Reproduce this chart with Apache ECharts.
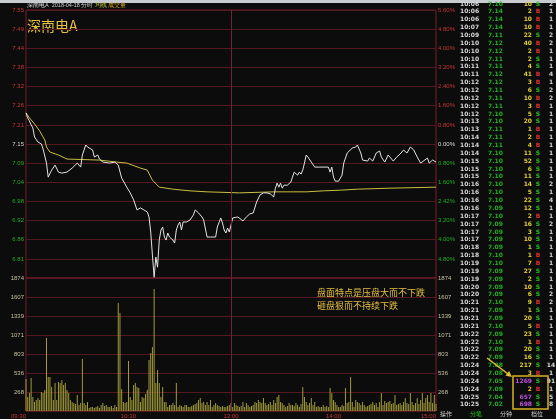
<!DOCTYPE html>
<html><head><meta charset="utf-8">
<script src="https://cdn.jsdelivr.net/npm/echarts@6/dist/echarts.min.js"></script>
<style>html,body{margin:0;padding:0;background:#0c0c0c;}#c{width:556px;height:419px;}</style>
</head><body><div id="c"></div>
<script>
const stockName = '深南电A';
const titleLine = ['深南电A  2018-04-18 分时', '均线', '成交量'];
const prevClose = 7.15;
const timeLabels = ['09:30', '10:30', '13:00', '14:00', '15:00'];
const pctLabels = ['5.60%','4.80%','4.00%','3.20%','2.40%','1.60%','0.80%','0.00%','0.80%','1.60%','2.42%','3.20%','4.00%','4.80%','5.60%'];
const volTickLabels = ['0','268','536','803','1071','1339','1607','1874'];

const priceMin = [0,1,2,3,4,5,7,9,10,12,13,15,17,19,21,24,27,30,32,33,35,36,39,40,42,43,45,49,52,54,56,59,61,63,65,67,68,71,72,73,74,75,76,77,78,79,80,81,82,83,84,86,87,88,89,90,91,92,94,96,98,99,101,103,104,106,108,111,112,114,115,116,117,118,119,120,121,124,125,127,129,131,133,135,137,139,141,143,145,146,147,148,149,150,151,153,155,156,157,159,160,161,162,163,164,165,167,169,172,175,177,178,179,180,181,183,185,186,188,189,191,193,194,196,197,200,201,203,205,207,208,210,212,213,215,217,219,221,223,225,227,229,231,232,235,236,238,240];
const priceVal = [7.243,7.228,7.219,7.207,7.198,7.171,7.156,7.150,7.135,7.093,7.051,7.072,7.087,7.066,7.063,7.066,7.078,7.093,7.081,7.117,7.147,7.141,7.132,7.111,7.117,7.105,7.096,7.093,7.096,7.087,7.048,7.021,7.004,6.983,6.953,6.959,6.959,6.947,6.932,6.887,6.818,6.752,6.812,6.782,6.863,6.893,6.902,6.872,6.863,6.884,6.872,6.863,6.854,6.893,6.908,6.917,6.893,6.917,6.917,6.923,6.938,6.953,6.944,6.932,6.923,6.872,6.872,6.872,6.902,6.929,6.914,6.893,6.884,6.899,6.887,6.908,6.929,6.932,6.929,6.920,6.932,6.941,6.944,6.977,6.998,7.004,7.004,7.001,6.992,7.018,7.033,7.021,7.033,7.018,7.027,7.027,7.036,7.051,7.066,7.057,7.066,7.060,7.072,7.093,7.117,7.111,7.096,7.081,7.081,7.081,7.081,7.066,7.081,7.051,7.039,7.039,7.057,7.093,7.123,7.126,7.138,7.141,7.147,7.123,7.102,7.099,7.108,7.099,7.123,7.129,7.111,7.096,7.117,7.111,7.099,7.111,7.120,7.132,7.123,7.141,7.132,7.111,7.093,7.096,7.108,7.093,7.102,7.096];

const avgMin = [0,2,5,8,11,12,14,19,24,43,53,59,67,71,74,78,86,96,106,125,145,164,174,184,194,213,240];
const avgVal = [7.243,7.228,7.210,7.189,7.162,7.141,7.126,7.117,7.105,7.102,7.096,7.093,7.078,7.072,7.042,7.021,7.015,7.010,7.007,7.004,7.007,7.007,7.010,7.012,7.015,7.018,7.021];

const volume = [
451,197,254,465,197,127,155,183,155,268,
254,296,1029,479,479,338,155,395,155,409,
395,437,367,395,296,254,155,127,113,99,
226,85,113,733,113,85,127,42,56,56,
42,56,70,42,85,113,70,85,56,56,
70,42,85,56,1523,1382,310,127,113,127,
705,197,155,367,395,338,324,127,197,183,
240,300,720,818,902,1720,395,578,395,197,
338,127,127,56,85,85,113,85,395,56,
85,70,56,85,85,56,56,70,85,99,
113,155,183,113,127,85,127,85,155,56,
85,113,85,70,56,70,56,56,70,85,
113,56,113,85,70,56,70,127,56,113,
85,56,70,85,127,113,155,127,113,183,
113,85,99,127,85,155,113,197,226,127,
113,85,56,70,113,85,85,70,113,85,
56,99,338,197,127,85,113,183,85,127,
56,70,56,56,85,56,70,56,324,254,
155,127,85,56,56,85,70,324,113,127,
479,127,56,155,127,113,85,127,85,56,
70,85,99,127,85,113,56,127,254,85,
141,113,127,141,99,113,226,85,99,113,
85,127,183,113,99,254,127,85,113,183,
99,155,254,113,183,226,127,254,113,226,
99];

const tradeTime = ['10:06','10:06','10:06','10:07','10:09','10:10','10:10','10:10','10:11','10:11','10:12','10:12','10:12','10:12','10:12','10:13','10:13','10:14','10:14','10:14','10:15','10:15','10:15','10:16','10:16','10:16','10:16','10:17','10:17','10:17','10:17','10:18','10:18','10:19','10:19','10:19','10:20','10:20','10:21','10:21','10:21','10:21','10:22','10:22','10:22','10:22','10:24','10:24','10:24','10:24','10:25','10:25'];
const tradePrice = ['7.10','7.14','7.14','7.14','7.11','7.12','7.12','7.11','7.11','7.12','7.12','7.11','7.11','7.11','7.10','7.10','7.11','7.11','7.11','7.10','7.10','7.10','7.10','7.10','7.10','7.10','7.09','7.10','7.09','7.09','7.09','7.09','7.10','7.10','7.09','7.09','7.09','7.09','7.10','7.09','7.09','7.10','7.09','7.10','7.09','7.09','7.08','7.08','7.05','7.09','7.04','7.02'];
const tradeVol = [10,2,10,10,22,40,2,2,4,41,3,6,10,3,5,20,1,2,4,11,52,6,11,14,5,22,12,2,16,3,10,1,1,7,27,2,10,6,9,1,20,5,23,1,20,16,217,3,1269,2,657,698];
const tradeSide = ['S','B','B','B','S','B','B','S','S','B','B','S','B','B','S','S','B','B','B','S','S','S','S','S','S','S','S','B','S','S','S','S','B','B','S','S','S','S','B','S','S','B','S','B','S','S','S','B','S','B','S','S'];
const tradeCount = [2,1,1,1,2,2,1,1,1,4,1,2,2,1,1,1,1,1,1,1,1,1,1,2,1,4,1,1,2,1,1,1,1,1,1,1,1,2,2,1,1,1,1,1,1,1,14,1,91,1,5,8];
const annotation = ['盘面特点是压盘大而不下跌', '砸盘狠而不持续下跌'];
const tabs = ['操作', '分笔', '分钟', '档位'];

const RED = '#c83838', GREEN = '#22b022', WHITE = '#d8d8d8', YEL = '#e6c040';
const GRIDC = '#541820';
const step = 0.0572;
const volStep = 267.8;

const chart = echarts.init(document.getElementById('c'), null, {renderer: 'canvas'});

const graphics = [];
graphics.push({type: 'rect', shape: {x: 0, y: 0, width: 556, height: 3}, style: {fill: '#c8ccd0'}, silent: true});
graphics.push({type: 'text', x: 27, y: 5.5, style: {
  text: '{w|' + titleLine[0] + '} {y|' + titleLine[1] + '} {o|' + titleLine[2] + '}',
  verticalAlign: 'middle', font: '5.5px sans-serif',
  rich: {w: {fill: '#d0d0d0', fontSize: 5.5}, y: {fill: '#c8d040', fontSize: 5.5}, o: {fill: '#d8b030', fontSize: 5.5}}
}});
graphics.push({type: 'text', x: 27, y: 26, style: {text: stockName, fill: YEL, fontSize: 14, fontFamily: 'Noto Sans CJK SC', verticalAlign: 'middle'}});
annotation.forEach((t, i) => graphics.push({type: 'text', x: 317, y: 293 + i * 13, style: {text: t, fill: YEL, fontSize: 9, fontFamily: 'Noto Sans CJK SC', verticalAlign: 'middle'}}));

const rowY0 = 4, rowH = 7.86;
const tf = 'bold 6px "DejaVu Sans", sans-serif';
tradeTime.forEach((t, i) => {
  const y = rowY0 + i * rowH;
  const pr = parseFloat(tradePrice[i]);
  const big = tradeVol[i] >= 500;
  graphics.push({type: 'text', x: 460, y: y, style: {text: t, fill: WHITE, font: tf, verticalAlign: 'middle', align: 'left'}});
  graphics.push({type: 'text', x: 488, y: y, style: {text: tradePrice[i], fill: pr >= prevClose ? RED : GREEN, font: tf, verticalAlign: 'middle', align: 'left'}});
  graphics.push({type: 'text', x: 532, y: y, style: {text: String(tradeVol[i]), fill: big ? '#c050e0' : '#e0d030', font: tf, verticalAlign: 'middle', align: 'right'}});
  graphics.push({type: 'text', x: 538, y: y, style: {text: tradeSide[i], fill: tradeSide[i] === 'B' ? '#e03030' : '#20c020', font: tf, verticalAlign: 'middle', align: 'center'}});
  graphics.push({type: 'text', x: 551, y: y, style: {text: String(tradeCount[i]), fill: WHITE, font: tf, verticalAlign: 'middle', align: 'center'}});
});
const tabX = [446, 476, 506, 537];
tabs.forEach((t, i) => graphics.push({type: 'text', x: tabX[i], y: 414, style: {text: t, fill: i === 1 ? '#20c020' : '#c8c8c8', fontSize: 6, fontFamily: 'Noto Sans CJK SC', verticalAlign: 'middle', align: 'center'}}));
graphics.push({type: 'line', shape: {x1: 487, y1: 358, x2: 508, y2: 374}, style: {stroke: '#e0c030', lineWidth: 1.5}});
graphics.push({type: 'polygon', shape: {points: [[512, 377], [505.5, 375.7], [509.1, 370.9]]}, style: {fill: '#e0c030'}});
graphics.push({type: 'rect', shape: {x: 513, y: 376, width: 35, height: 33}, style: {fill: 'none', stroke: '#d8b020', lineWidth: 1.5}});

function priceColor(v) {
  const x = parseFloat(v);
  if (x > prevClose + 1e-6) return RED;
  if (x < prevClose - 1e-6) return GREEN;
  return WHITE;
}
const vline = {silent: true, symbol: ['none', 'none'], label: {show: false}, lineStyle: {color: '#6e2434', type: 'solid', width: 1}, data: [{xAxis: 120}]};

chart.setOption({
  animation: false,
  backgroundColor: '#0c0c0c',
  grid: [
    {left: 26, right: 120, top: 10, height: 268, show: true, borderColor: '#7a1c26', borderWidth: 1, backgroundColor: 'transparent'},
    {left: 26, right: 120, top: 278, height: 133, show: true, borderColor: '#7a1c26', borderWidth: 1, backgroundColor: 'transparent'}
  ],
  xAxis: [
    {type: 'value', gridIndex: 0, min: 0, max: 240, interval: 60, axisLine: {show: false}, axisTick: {show: false}, axisLabel: {show: false}, splitLine: {show: false}},
    {type: 'value', gridIndex: 1, min: 0, max: 240, interval: 60, axisLine: {show: false}, axisTick: {show: false}, splitLine: {show: false},
     axisLabel: {color: RED, fontSize: 6, margin: 2, alignMinLabel: 'right', alignMaxLabel: 'right', formatter: v => timeLabels[Math.round(v / 60)]}}
  ],
  yAxis: [
    {type: 'value', gridIndex: 0, min: prevClose - 7 * step, max: prevClose + 7 * step, interval: step,
     axisLine: {show: false}, axisTick: {show: false}, splitLine: {lineStyle: {color: GRIDC, width: 1}},
     axisLabel: {fontSize: 6, margin: 2, showMinLabel: false, color: priceColor, formatter: v => v.toFixed(2)}},
    {type: 'value', gridIndex: 0, position: 'right', min: -560, max: 560, interval: 80,
     axisLine: {show: false}, axisTick: {show: false}, splitLine: {show: false},
     axisLabel: {fontSize: 6, margin: 2, showMinLabel: false, formatter: v => pctLabels[Math.round((560 - v) / 80)],
       color: v => { const x = parseFloat(v); return x > 0 ? RED : (x < 0 ? GREEN : WHITE); }}},
    {type: 'value', gridIndex: 1, min: 0, max: 7 * volStep, interval: volStep,
     axisLine: {show: false}, axisTick: {show: false}, splitLine: {lineStyle: {color: GRIDC, width: 1}},
     axisLabel: {fontSize: 6, margin: 2, showMinLabel: false, color: '#c8c0a0', formatter: v => volTickLabels[Math.round(v / volStep)]}},
    {type: 'value', gridIndex: 1, position: 'right', min: 0, max: 7 * volStep, interval: volStep,
     axisLine: {show: false}, axisTick: {show: false}, splitLine: {show: false},
     axisLabel: {fontSize: 6, margin: 2, showMinLabel: false, color: '#c8c0a0', formatter: v => volTickLabels[Math.round(v / volStep)]}}
  ],
  series: [
    {type: 'line', xAxisIndex: 0, yAxisIndex: 0, data: avgMin.map((m, i) => [m, avgVal[i]]), symbol: 'none', lineStyle: {color: '#c8c040', width: 1}, markLine: vline, z: 3},
    {type: 'line', xAxisIndex: 0, yAxisIndex: 0, data: priceMin.map((m, i) => [m, priceVal[i]]), symbol: 'none', lineStyle: {color: '#e4e4e4', width: 1}, z: 4},
    {type: 'bar', xAxisIndex: 1, yAxisIndex: 2, data: volume.map((v, i) => [i, v]), barWidth: 1, itemStyle: {color: '#a09a38'}, markLine: vline}
  ],
  graphic: graphics
});
</script></body></html>
